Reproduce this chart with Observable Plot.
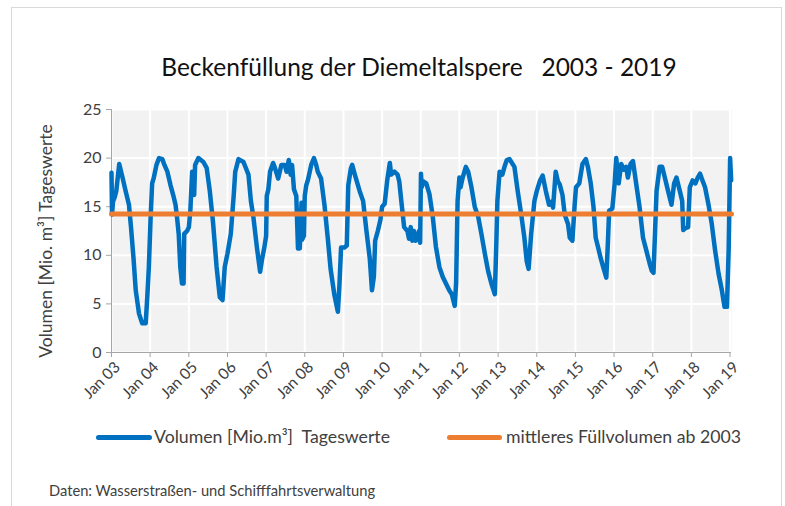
<!DOCTYPE html>
<html><head><meta charset="utf-8">
<script src="https://cdn.jsdelivr.net/npm/d3@7"></script>
<script src="https://cdn.jsdelivr.net/npm/@observablehq/plot@0.6"></script>
<style>
body{margin:0;background:#fff;font-family:Lato,"Open Sans",sans-serif;}
#wrap{position:relative;width:785px;height:506px;overflow:hidden;}
#frame{position:absolute;left:11px;top:7px;width:771px;height:540px;border:1px solid #d9d9d9;box-sizing:border-box;}
#title{position:absolute;left:0;width:838px;top:52px;text-align:center;font-size:24.5px;color:#111;white-space:pre;}
#ylabel{position:absolute;left:45px;top:241px;transform:translate(-50%,-50%) rotate(-90deg);font-size:17.5px;color:#404040;white-space:pre;}
#chart{position:absolute;left:0;top:0;}
.leg{position:absolute;top:426px;font-size:17.7px;color:#404040;white-space:pre;}
.legline{position:absolute;top:435px;height:5px;border-radius:3px;}
#caption{position:absolute;left:49px;top:481px;font-size:14.7px;color:#404040;white-space:pre;}
</style></head>
<body><div id="wrap">
<div id="frame"></div>
<div id="chart"></div>
<div id="title">Beckenfüllung der Diemeltalspere   2003 - 2019</div>
<div id="ylabel">Volumen [Mio. m³] Tageswerte</div>
<div class="legline" style="left:96px;width:56px;background:#0070c0"></div>
<div class="leg" style="left:154px">Volumen [Mio.m³]  Tageswerte</div>
<div class="legline" style="left:447px;width:55px;background:#ed7d31"></div>
<div class="leg" style="left:506px">mittleres Füllvolumen ab 2003</div>
<div id="caption">Daten: Wasserstraßen- und Schifffahrtsverwaltung</div>
</div>
<script>
const dates = [
"2003-01-01","2003-01-06","2003-01-15","2003-02-01","2003-02-15","2003-03-01","2003-03-15","2003-04-15","2003-05-15","2003-06-15","2003-07-05","2003-07-28","2003-08-18","2003-09-18","2003-10-18","2003-11-20","2003-12-05","2003-12-20",
"2004-01-06","2004-01-20","2004-02-05","2004-03-01","2004-03-25","2004-04-25","2004-05-15","2004-06-12","2004-07-12","2004-08-06","2004-08-28","2004-09-12","2004-09-27","2004-10-12","2004-10-28","2004-11-12","2004-11-18","2004-12-15",
"2005-01-01","2005-01-15","2005-02-01","2005-02-20","2005-03-01","2005-04-01","2005-05-18","2005-06-18","2005-07-18","2005-08-18","2005-09-20","2005-10-20","2005-11-15","2005-12-06",
"2006-01-01","2006-02-01","2006-03-01","2006-03-15","2006-04-15","2006-06-01","2006-07-18","2006-08-10","2006-09-03","2006-10-06","2006-11-05","2006-11-25","2006-12-15",
"2007-01-01","2007-01-07","2007-01-22","2007-02-07","2007-03-08","2007-03-25","2007-04-25","2007-05-25","2007-06-26","2007-07-13","2007-08-03","2007-08-21","2007-09-03","2007-09-21","2007-10-13","2007-10-29","2007-11-15","2007-12-01","2007-12-06","2007-12-24",
"2008-01-01","2008-01-15","2008-02-01","2008-03-02","2008-03-28","2008-04-18","2008-05-03","2008-06-03","2008-07-05","2008-08-06","2008-09-01","2008-10-07","2008-11-09","2008-11-24","2008-12-09",
"2009-01-10","2009-02-01","2009-02-15","2009-03-11","2009-03-24","2009-04-18","2009-06-03","2009-07-05","2009-08-06","2009-09-06","2009-09-27","2009-10-15","2009-10-27","2009-11-21","2009-12-15",
"2010-01-01","2010-01-25","2010-02-18","2010-03-15","2010-03-27","2010-04-27","2010-05-27","2010-06-12","2010-07-05","2010-07-28","2010-08-28","2010-09-12","2010-09-28","2010-10-13","2010-10-28","2010-11-12","2010-11-28","2010-12-15","2010-12-26",
"2011-01-03","2011-01-10","2011-01-25","2011-02-22","2011-03-24","2011-04-24","2011-05-24","2011-06-26","2011-07-27","2011-08-27","2011-09-27","2011-10-21","2011-11-18","2011-12-01","2011-12-15",
"2012-01-01","2012-01-12","2012-02-01","2012-03-02","2012-03-24","2012-04-24","2012-05-25","2012-06-26","2012-07-27","2012-08-28","2012-09-28","2012-10-29","2012-12-01","2012-12-15","2012-12-25",
"2013-01-15","2013-02-10","2013-03-02","2013-03-24","2013-04-18","2013-06-04","2013-07-05","2013-08-06","2013-09-06","2013-09-28","2013-10-16","2013-11-09","2013-12-10",
"2014-01-01","2014-02-01","2014-02-26","2014-03-28","2014-04-27","2014-05-19","2014-06-04","2014-06-29","2014-07-20","2014-08-06","2014-09-01","2014-09-22","2014-10-24","2014-11-09","2014-12-04","2014-12-25",
"2015-01-07","2015-02-07","2015-03-09","2015-04-10","2015-05-01","2015-05-26","2015-06-21","2015-07-12","2015-08-04","2015-08-28","2015-09-23","2015-10-20","2015-11-01","2015-11-16","2015-12-16",
"2016-01-07","2016-01-22","2016-02-14","2016-03-09","2016-04-03","2016-04-25","2016-05-11","2016-06-05","2016-06-28","2016-07-28","2016-08-29","2016-10-01","2016-11-01","2016-12-04","2016-12-23",
"2017-01-08","2017-01-22","2017-02-06","2017-03-07","2017-03-31","2017-04-25","2017-05-26","2017-06-27","2017-07-22","2017-08-13","2017-09-14","2017-10-06","2017-10-16","2017-11-06","2017-12-01","2017-12-17",
"2018-01-13","2018-02-08","2018-03-02","2018-03-24","2018-04-16","2018-05-10","2018-06-12","2018-07-13","2018-08-13","2018-09-15","2018-10-16","2018-11-10","2018-12-03","2018-12-19",
"2019-01-02","2019-01-12"
];
const volume = [
18.5,14.2,15.5,16.0,16.6,18.0,19.4,18.0,16.6,15.2,12.8,9.7,6.4,4.0,3.0,3.0,5.7,8.8,
14.0,17.4,18.0,19.3,20.0,19.9,19.3,18.6,17.2,16.2,15.2,13.8,12.2,8.8,7.1,7.1,12.2,12.5,
12.9,14.6,18.6,16.2,19.3,20.0,19.6,19.0,16.6,13.3,8.8,5.7,5.4,8.8,
10.2,12.2,16.2,18.6,19.9,19.6,18.3,15.6,13.9,10.8,8.3,9.7,10.8,
12.0,16.1,16.8,18.6,19.5,19.0,17.9,19.3,19.3,18.6,19.8,18.3,19.3,16.8,16.1,10.7,10.7,15.4,11.6,12.0,
16.1,17.2,17.8,19.3,20.0,19.3,18.6,17.9,15.2,11.7,8.6,5.9,4.2,7.0,10.8,
10.8,11.0,17.2,18.9,19.3,18.3,16.6,15.6,12.5,9.7,6.4,7.8,11.5,12.5,13.6,
15.0,15.3,17.7,19.5,18.3,18.6,18.3,17.6,15.2,12.9,12.5,11.7,12.9,11.5,12.5,11.5,11.7,12.5,11.3,
18.4,17.0,17.6,17.4,16.3,14.0,10.9,8.8,7.8,7.1,6.4,6.0,4.8,7.1,15.6,
18.0,17.0,18.0,19.1,18.6,17.0,15.0,14.0,12.2,10.2,8.4,7.1,6.0,11.2,15.6,
18.6,18.3,19.1,19.8,19.9,19.1,16.6,14.3,11.8,9.4,8.6,12.2,15.6,
16.6,17.7,18.2,16.6,15.2,15.5,14.9,18.6,17.6,17.3,16.2,14.2,13.2,11.8,11.5,15.2,
17.0,17.4,19.4,19.9,19.0,17.4,15.0,11.8,10.8,9.7,8.7,7.7,10.5,14.6,14.8,
17.4,20.0,17.4,19.4,18.8,19.1,18.0,19.4,19.7,17.4,15.0,11.8,10.5,9.1,8.4,
8.2,12.2,16.6,19.1,19.1,18.0,16.6,15.2,17.4,18.0,16.6,15.6,12.6,12.8,12.9,17.0,
17.7,17.4,18.0,18.4,17.7,17.0,15.2,13.2,10.5,8.1,6.4,4.7,4.7,10.5,
20.0,17.7
];
const meanVolume = 14.25;
const tickYears = ["2003","2004","2005","2006","2007","2008","2009","2010","2011","2012","2013","2014","2015","2016","2017","2018","2019"];
const tickLabels = ["Jan 03","Jan 04","Jan 05","Jan 06","Jan 07","Jan 08","Jan 09","Jan 10","Jan 11","Jan 12","Jan 13","Jan 14","Jan 15","Jan 16","Jan 17","Jan 18","Jan 19"];
const yTicks = [0,5,10,15,20,25];

const series = dates.map((d,i) => ({date: new Date(d + "T00:00:00Z"), v: volume[i]}));
const tickDates = tickYears.map(y => new Date(y + "-01-01T00:00:00Z"));
const xStart = new Date("2003-01-01T00:00:00Z"), xEnd = new Date("2019-01-15T00:00:00Z");
const meanData = [{date: xStart, v: meanVolume}, {date: xEnd, v: meanVolume}];

const chart = Plot.plot({
  width: 785, height: 420,
  marginLeft: 111, marginRight: 54, marginTop: 109, marginBottom: 68,
  style: {fontFamily: "Lato, 'Open Sans', sans-serif", fontSize: "15px", color: "#404040", background: "transparent"},
  x: {type: "utc", domain: [xStart, xEnd]},
  y: {domain: [0, 25]},
  marks: [
    Plot.frame({fill: "#f2f2f2", stroke: null}),
    Plot.gridY(yTicks, {stroke: "#fff", strokeOpacity: 1, strokeWidth: 2}),
    Plot.gridX(tickDates, {stroke: "#fff", strokeOpacity: 1, strokeWidth: 2}),
    Plot.ruleX([xStart], {stroke: "#a6a6a6", strokeWidth: 1}),
    Plot.ruleY([0], {stroke: "#a6a6a6", strokeWidth: 1}),
    Plot.axisY(yTicks, {tickSize: 5, tickPadding: 5, stroke: "#a6a6a6", fill: "#404040", fontSize: 16, label: null}),
    Plot.axisX(tickDates, {tickSize: 5, stroke: "#a6a6a6", label: null, tickFormat: () => ""}),
    Plot.axisX(tickDates, {tickSize: 0, tickPadding: 9, tickRotate: -45, fill: "#404040", fontSize: 15.5, label: null,
      dx: 6, dy: 3,
      tickFormat: d => tickLabels[tickDates.findIndex(t => +t === +d)]}),
    Plot.lineY(series, {x: "date", y: "v", stroke: "#0070c0", strokeWidth: 4.5, strokeLinejoin: "round", strokeLinecap: "round"}),
    Plot.lineY(meanData, {x: "date", y: "v", stroke: "#ed7d31", strokeWidth: 5})
  ]
});
document.getElementById("chart").appendChild(chart);
</script>
</body></html>
